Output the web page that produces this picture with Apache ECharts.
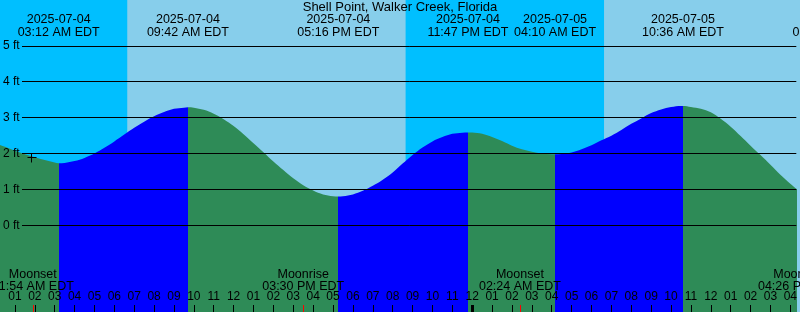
<!DOCTYPE html>
<html>
<head>
<meta charset="utf-8">
<script src="https://cdn.jsdelivr.net/npm/echarts@6/dist/echarts.min.js"></script>
<style>
html,body{margin:0;padding:0;background:#87CEEB;overflow:hidden}
#chart{width:800px;height:312px}
</style>
</head>
<body>
<div id="chart"></div>
<script>
// ---- data (hours counted from 2025-07-04 00:00 EDT) ----
const stationName = 'Shell Point, Walker Creek, Florida';

const sampleHours = [0, 0.5, 1, 1.5, 2, 2.5, 3, 3.2, 3.5, 4, 4.5, 5, 5.5, 6, 6.5, 7, 7.5, 8, 8.5, 9, 9.5, 9.7,
  10, 10.5, 11, 11.5, 12, 12.5, 13, 13.5, 14, 14.5, 15, 15.5, 16, 16.5, 17, 17.267, 17.5, 18, 18.5, 19, 19.5,
  20, 20.5, 21, 21.5, 22, 22.5, 23, 23.5, 23.783, 24, 24.5, 25, 25.5, 26, 26.5, 27, 27.5, 28, 28.167, 28.5,
  29, 29.5, 30, 30.5, 31, 31.5, 32, 32.5, 33, 33.5, 34, 34.5, 34.6, 35, 35.5, 36, 36.5, 37, 37.5, 38, 38.5,
  39, 39.5, 40, 40.5];
const tideFeet = [2.29, 2.19, 2.08, 1.98, 1.90, 1.82, 1.75, 1.73, 1.74, 1.79, 1.88, 2.00, 2.16, 2.34, 2.53, 2.72, 2.89, 3.04, 3.16, 3.25, 3.28, 3.29,
  3.28, 3.22, 3.11, 2.96, 2.77, 2.54, 2.29, 2.04, 1.78, 1.54, 1.31, 1.12, 0.97, 0.86, 0.81, 0.80, 0.81, 0.86, 0.96, 1.10, 1.27,
  1.47, 1.72, 1.96, 2.17, 2.34, 2.46, 2.55, 2.58, 2.59, 2.585, 2.55, 2.46, 2.35, 2.22, 2.12, 2.05, 2.00, 1.98, 1.98, 1.99,
  2.03, 2.12, 2.23, 2.37, 2.50, 2.66, 2.83, 2.98, 3.13, 3.23, 3.30, 3.33, 3.33, 3.30, 3.25, 3.15, 2.97, 2.75, 2.49, 2.22, 1.96,
  1.69, 1.41, 1.16, 0.93];

const eventHours = [3.2, 9.7, 17.267, 23.783, 28.167, 34.6, 42.17];
const eventKinds = ['low', 'high', 'low', 'high', 'low', 'high', 'low'];
const eventDates = ['2025-07-04', '2025-07-04', '2025-07-04', '2025-07-04', '2025-07-05', '2025-07-05', '2025-07-05'];
const eventClock = ['03:12 AM EDT', '09:42 AM EDT', '05:16 PM EDT', '11:47 PM EDT', '04:10 AM EDT', '10:36 AM EDT', '06:10 PM EDT'];

const nightStarts = [-3, 20.65];
const nightEnds = [6.65, 30.63];

const moonHours = [1.9, 15.5, 26.4, 40.433];
const moonKinds = ['Moonset', 'Moonrise', 'Moonset', 'Moonrise'];
const moonClock = ['01:54 AM EDT', '03:30 PM EDT', '02:24 AM EDT', '04:26 PM EDT'];

const hourTicks = [1, 2, 3, 4, 5, 6, 7, 8, 9, 10, 11, 12, 13, 14, 15, 16, 17, 18, 19, 20,
  21, 22, 23, 24, 25, 26, 27, 28, 29, 30, 31, 32, 33, 34, 35, 36, 37, 38, 39, 40];
const midnightHours = [24];
const footTicks = [0, 1, 2, 3, 4, 5];
const nowHour = 1.83;
const nowFeet = 1.90;

// ---- styling ----
const X_MIN = 0.3, X_MAX = 40.3;
const Y_MIN = -2.418, Y_MAX = 6.283;
const C_DAY = '#87CEEB', C_NIGHT = '#00BFFF', C_RISE = '#0000FF', C_FALL = '#2E8B57';
const FONT = 'Liberation Sans';

const pieces = [];
let prev = -1;
eventHours.forEach((t, i) => {
  pieces.push({ gte: prev, lt: t, color: eventKinds[i] === 'high' ? C_RISE : C_FALL });
  prev = t;
});
pieces.push({ gte: prev, lt: 50, color: eventKinds[eventKinds.length - 1] === 'low' ? C_RISE : C_FALL });

function hourLabel(v) {
  const hod = Math.round(v) % 24;
  const h = hod % 12 === 0 ? 12 : hod % 12;
  return (h < 10 ? '0' : '') + h;
}

const chart = echarts.init(document.getElementById('chart'), null, { renderer: 'canvas' });

const baseX = { type: 'value', min: X_MIN, max: X_MAX, position: 'bottom', z: 10,
  axisLine: { show: false, onZero: false }, splitLine: { show: false } };

chart.setOption({
  animation: false,
  backgroundColor: C_DAY,
  title: { text: stationName, left: 'center', top: 1, padding: 0,
    textStyle: { fontFamily: FONT, fontSize: 13, fontWeight: 'normal', color: '#000' } },
  grid: { left: 0, right: 0, top: 0, bottom: 0, containLabel: false },
  xAxis: [
    Object.assign({}, baseX, {
      axisTick: { show: true, inside: true, length: 7, customValues: hourTicks, lineStyle: { color: '#000', width: 1 } },
      axisLabel: { show: true, inside: true, margin: 15, verticalAlign: 'middle', customValues: hourTicks,
        formatter: hourLabel, fontFamily: FONT, fontSize: 12, color: '#000' }
    }),
    Object.assign({}, baseX, {
      axisTick: { show: true, inside: true, length: 7, customValues: moonHours, lineStyle: { color: '#FF0000', width: 1 } },
      axisLabel: { show: false }
    }),
    Object.assign({}, baseX, {
      axisTick: { show: true, inside: true, length: 7, customValues: midnightHours, lineStyle: { color: '#000', width: 3 } },
      axisLabel: { show: false }
    })
  ],
  yAxis: {
    type: 'value', min: Y_MIN, max: Y_MAX, z: 10,
    axisLine: { show: false, onZero: false }, axisTick: { show: false }, splitLine: { show: false },
    axisLabel: { show: true, inside: true, margin: 2, align: 'left', customValues: footTicks,
      formatter: v => v + ' ft', fontFamily: FONT, fontSize: 12, color: '#000' }
  },
  visualMap: { type: 'piecewise', show: false, dimension: 0, seriesIndex: 1, pieces: pieces },
  series: [
    { // night bands
      type: 'custom', silent: true, z: 1, clip: true,
      data: nightStarts.map((s, i) => [s, nightEnds[i]]),
      encode: { x: [0, 1] },
      renderItem: (params, api) => {
        const s = api.coord([api.value(0), 0])[0];
        const e = api.coord([api.value(1), 0])[0];
        const cs = params.coordSys;
        return { type: 'rect', shape: { x: s, y: cs.y, width: e - s, height: cs.height },
          style: { fill: C_NIGHT } };
      }
    },
    { // tide water
      type: 'line', z: 2, silent: true, smooth: 0.35, showSymbol: false,
      data: sampleHours.map((t, i) => [t, tideFeet[i]]),
      lineStyle: { width: 0, opacity: 0 },
      areaStyle: { opacity: 1, origin: 'start' }
    },
    { // height grid lines
      type: 'custom', silent: true, z: 3,
      data: footTicks.map(v => [X_MIN, v]),
      encode: { x: 0, y: 1 },
      renderItem: (params, api) => {
        const y = Math.floor(api.coord([X_MIN, api.value(1)])[1]) + 0.5;
        const cs = params.coordSys;
        return { type: 'line', shape: { x1: 22, y1: y, x2: cs.x + cs.width, y2: y },
          style: { stroke: '#000', lineWidth: 1 } };
      }
    },
    { // current time marker
      type: 'custom', silent: true, z: 4,
      data: [[nowHour, nowFeet]],
      encode: { x: 0, y: 1 },
      renderItem: (params, api) => {
        const p = api.coord([api.value(0), api.value(1)]);
        const cx = Math.floor(p[0]) + 0.5, cy = Math.floor(p[1]) + 0.5;
        return { type: 'group', children: [
          { type: 'line', shape: { x1: cx - 4, y1: cy, x2: cx + 5, y2: cy }, style: { stroke: '#000', lineWidth: 1 } },
          { type: 'line', shape: { x1: cx, y1: cy - 4, x2: cx, y2: cy + 5 }, style: { stroke: '#000', lineWidth: 1 } }
        ] };
      }
    },
    { // tide event labels
      type: 'custom', silent: true, z: 5,
      data: eventHours.map((t, i) => [t, 0, i]),
      encode: { x: 0, y: 1 },
      renderItem: (params, api) => {
        const x = api.coord([api.value(0), 0])[0];
        const i = api.value(2);
        const st = { align: 'center', verticalAlign: 'middle', fill: '#000', fontFamily: FONT, fontSize: 12.5 };
        return { type: 'group', children: [
          { type: 'text', style: Object.assign({ text: eventDates[i], x: x, y: 19.8 }, st) },
          { type: 'text', style: Object.assign({ text: eventClock[i], x: x, y: 32.2 }, st) }
        ] };
      }
    },
    { // moon event labels
      type: 'custom', silent: true, z: 5,
      data: moonHours.map((t, i) => [t, 0, i]),
      encode: { x: 0, y: 1 },
      renderItem: (params, api) => {
        const x = api.coord([api.value(0), 0])[0];
        const i = api.value(2);
        const st = { align: 'center', verticalAlign: 'middle', fill: '#000', fontFamily: FONT, fontSize: 12.5 };
        return { type: 'group', children: [
          { type: 'text', style: Object.assign({ text: moonKinds[i], x: x, y: 274.5 }, st) },
          { type: 'text', style: Object.assign({ text: moonClock[i], x: x, y: 286.2 }, st) }
        ] };
      }
    }
  ]
});
</script>
</body>
</html>
